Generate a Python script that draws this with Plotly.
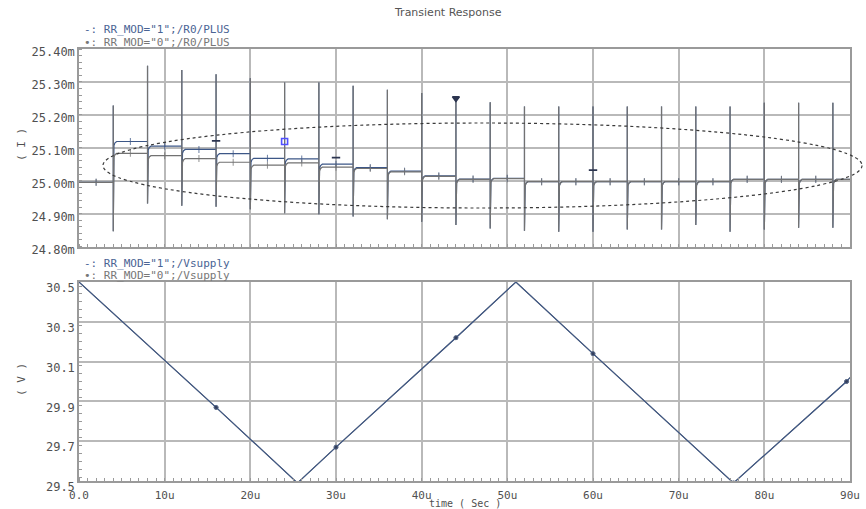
import plotly.graph_objects as go

# ---------------- data ----------------
# switching edges of the load (time in microseconds)
step_times = [4, 8, 12, 16, 20, 24, 28, 32, 36, 40, 44, 48, 52, 56, 60, 64, 68, 72, 76, 80, 84, 88]
t_end = 90

# settled current of each interval, in mA (first entry = before the first edge)
level_mod1 = [24.995, 25.119, 25.105, 25.095, 25.082, 25.068, 25.066, 25.050, 25.040, 25.029,
              25.015, 25.005, 25.007, 24.997, 24.997, 24.997, 24.997, 24.997, 24.997, 25.004,
              25.004, 25.004, 25.004]
level_mod0 = [24.995, 25.083, 25.076, 25.067, 25.056, 25.047, 25.054, 25.041, 25.037, 25.027,
              25.013, 25.004, 25.006, 24.997, 24.997, 24.997, 24.997, 24.997, 24.997, 25.004,
              25.004, 25.004, 25.004]

# glitch extremes at each edge, in mA
spike_top = [25.228, 25.349, 25.336, 25.323, 25.311, 25.298, 25.298, 25.288, 25.276, 25.266, 25.250,
             25.238, 25.225, 25.225, 25.225, 25.225, 25.225, 25.225, 25.225, 25.237, 25.237, 25.237]
spike_bottom = [24.846, 24.931, 24.924, 24.921, 24.913, 24.901, 24.898, 24.891, 24.883, 24.875, 24.865,
                24.855, 24.848, 24.845, 24.845, 24.852, 24.852, 24.865, 24.845, 24.852, 24.857, 24.857]

# settling hook after each edge (offset in us, offset from the new level in mA)
settle_dt = [0.0, 0.08, 0.2, 0.4]
settle_dv = [-0.030, -0.012, -0.004, 0.0]

# isolated waveform symbols on the current plot
flag_time = [16, 24, 30, 44, 60]
flag_value = [25.121, 25.119, 25.070, 25.250, 25.032]
flag_symbol = ["line-ew", "square-open", "line-ew", "triangle-down", "line-ew"]
flag_color = ["#2c3550", "#5050ff", "#2c3550", "#2c3550", "#2c3550"]

# supply voltage (V)
vs_time = [0, 16, 25.5, 30, 44, 51, 60, 76.4, 89.6, 90]
vs_value = [30.5, 29.87, 29.49, 29.67, 30.22, 30.5, 30.14, 29.49, 30.0, 30.02]
vs_marked = [0, 1, 0, 1, 1, 0, 1, 1, 1, 0]

# axis ticks
x_ticks = [0, 10, 20, 30, 40, 50, 60, 70, 80, 90]
x_ticktext = ["0.0", "10u", "20u", "30u", "40u", "50u", "60u", "70u", "80u", "90u"]
i_ticks = [24.80, 24.90, 25.00, 25.10, 25.20, 25.30, 25.40]
i_ticktext = ["24.80m", "24.90m", "25.00m", "25.10m", "25.20m", "25.30m", "25.40m"]
v_ticks = [29.5, 29.7, 29.9, 30.1, 30.3, 30.5]
v_ticktext = ["29.5", "29.7", "29.9", "30.1", "30.3", "30.5"]

BLUE = "#3d5787"
GRAY = "#727272"
GRID = "#b9b9b9"
FRAME = "#9a9a9a"
TXT = "#505050"
MONO = "DejaVu Sans Mono"


def current_trace(levels):
    """Build the switching waveform: level, glitch up/down, settling hook, next level."""
    xs, ys, sizes = [0], [levels[0]], [0]
    xs.append((0 + step_times[0]) / 2); ys.append(levels[0]); sizes.append(5)
    for k, t in enumerate(step_times):
        xs += [t, t, t]
        ys += [levels[k], spike_top[k], spike_bottom[k]]
        sizes += [0, 0, 0]
        for dt, dv in zip(settle_dt, settle_dv):
            xs.append(t + dt); ys.append(levels[k + 1] + dv); sizes.append(0)
        nxt = step_times[k + 1] if k + 1 < len(step_times) else None
        if nxt is not None:
            xs.append((t + nxt) / 2); ys.append(levels[k + 1]); sizes.append(5)
    xs.append(t_end); ys.append(levels[-1]); sizes.append(0)
    return xs, ys, sizes


fig = go.Figure()

for levels, color, name in [(level_mod1, BLUE, 'RR_MOD="1"'), (level_mod0, GRAY, 'RR_MOD="0"')]:
    xs, ys, sizes = current_trace(levels)
    fig.add_trace(go.Scatter(
        x=xs, y=ys, mode="lines+markers", name=name, xaxis="x", yaxis="y",
        line=dict(color=color, width=1.2),
        marker=dict(symbol="line-ns", size=sizes, line=dict(width=1.1, color=color)),
        showlegend=False, hoverinfo="skip"))

fig.add_trace(go.Scatter(
    x=flag_time, y=flag_value, mode="markers", xaxis="x", yaxis="y",
    marker=dict(symbol=flag_symbol, size=6, color=flag_color,
                line=dict(width=1.6, color=flag_color)),
    showlegend=False, hoverinfo="skip"))

for color in [GRAY, BLUE]:
    fig.add_trace(go.Scatter(
        x=vs_time, y=vs_value, mode="lines+markers", xaxis="x2", yaxis="y2",
        line=dict(color=color, width=1.1),
        marker=dict(size=[4 * m for m in vs_marked], color="#2c3550"),
        showlegend=False, hoverinfo="skip"))

common_x = dict(range=[0, 90], tickvals=x_ticks, ticktext=x_ticktext, showgrid=True,
                gridcolor=GRID, gridwidth=1.5, showline=True, linecolor=FRAME, linewidth=1.5,
                mirror=True, ticks="", zeroline=False, ticklabelstandoff=3, automargin=False,
                minor=dict(dtick=1, ticks="inside", ticklen=3, tickcolor=FRAME, showgrid=False),
                tickfont=dict(family=MONO, size=11, color=TXT))
common_y = dict(showgrid=True, gridcolor=GRID, gridwidth=1.5, showline=True, linecolor=FRAME,
                linewidth=1.5, mirror=True, ticks="", zeroline=False, automargin=False,
                tickfont=dict(family=MONO, size=12, color=TXT))

fig.update_layout(
    width=866, height=509,
    margin=dict(l=79, r=16, t=49, b=28, autoexpand=False),
    paper_bgcolor="white", plot_bgcolor="white",
    xaxis=dict(common_x, domain=[0, 1], anchor="y", showticklabels=False),
    xaxis2=dict(common_x, domain=[0, 1], anchor="y2", matches="x"),
    yaxis=dict(common_y, domain=[0.5428, 1], anchor="x", range=[24.80, 25.40],
               tickvals=i_ticks, ticktext=i_ticktext, ticklabelshift=3,
               minor=dict(dtick=0.02, ticks="inside", ticklen=3, tickcolor=FRAME, showgrid=False)),
    yaxis2=dict(common_y, domain=[0, 0.4606], anchor="x2", range=[29.5, 30.5],
                tickvals=v_ticks, ticktext=v_ticktext, ticklabelshift=6,
                minor=dict(dtick=0.04, ticks="inside", ticklen=3, tickcolor=FRAME, showgrid=False)),
    showlegend=False,
)

# highlight ellipse around the settling region
fig.add_shape(type="circle", xref="paper", yref="paper",
              x0=0.0311, x1=1.0156, y0=0.6319, y1=0.8287,
              line=dict(color="#3a3a3a", width=1.2, dash="dot"))

ann = [
    dict(text="Transient Response", x=0.4786, y=1.0856, font=dict(family="DejaVu Sans", size=11, color="#555555"),
         xanchor="center"),
    dict(text='-: RR_MOD="1";/R0/PLUS', x=0.0039, y=1.0440, font=dict(family=MONO, size=11, color="#4a6494"),
         xanchor="left"),
    dict(text='•: RR_MOD="0";/R0/PLUS', x=0.0039, y=1.0160, font=dict(family=MONO, size=11, color="#777777"),
         xanchor="left"),
    dict(text='-: RR_MOD="1";/Vsupply', x=0.0039, y=0.5030, font=dict(family=MONO, size=11, color="#4a6494"),
         xanchor="left"),
    dict(text='•: RR_MOD="0";/Vsupply', x=0.0039, y=0.4750, font=dict(family=MONO, size=11, color="#777777"),
         xanchor="left"),
    dict(text="( I )", x=-0.0739, y=0.7778, textangle=-90, font=dict(family=MONO, size=11, color=TXT),
         xanchor="center"),
    dict(text="( V )", x=-0.0739, y=0.2338, textangle=-90, font=dict(family=MONO, size=11, color=TXT),
         xanchor="center"),
    dict(text="time ( Sec )", x=0.5006, y=-0.0532, font=dict(family=MONO, size=10, color=TXT),
         xanchor="center"),
]
for a in ann:
    fig.add_annotation(xref="paper", yref="paper", showarrow=False, yanchor="middle", **a)

fig.write_html("out.html")
